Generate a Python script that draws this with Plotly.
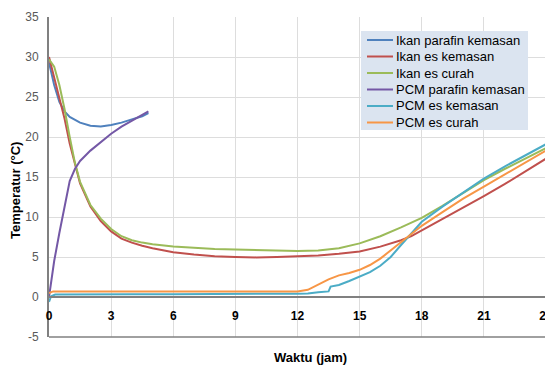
import plotly.graph_objects as go

# ---- data ----
t_ikan_parafin = [0, 0.25, 0.5, 0.75, 1.0, 1.5, 2.0, 2.5, 3.0, 3.5, 4.0, 4.5, 4.8]
T_ikan_parafin = [29.3, 26.5, 24.4, 23.2, 22.5, 21.8, 21.4, 21.3, 21.5, 21.8, 22.2, 22.6, 23.0]

t_ikan_es_kemasan = [0, 0.25, 0.5, 0.75, 1.0, 1.25, 1.5, 2.0, 2.5, 3.0, 3.5, 4.0, 4.5, 5, 6, 7, 8, 9, 10, 11, 12,
                     13, 14, 15, 16, 17, 17.5, 18, 19, 20, 21, 22, 23, 24]
T_ikan_es_kemasan = [30.0, 27.5, 25.0, 22.3, 19.2, 16.5, 14.2, 11.3, 9.5, 8.2, 7.3, 6.8, 6.4, 6.1, 5.6, 5.3, 5.1, 5.0, 4.95, 5.0, 5.1,
                     5.2, 5.4, 5.7, 6.3, 7.1, 7.6, 8.3, 9.7, 11.1, 12.6, 14.1, 15.7, 17.3]

t_ikan_es_curah = [0, 0.25, 0.5, 0.75, 1.0, 1.25, 1.5, 2.0, 2.5, 3.0, 3.5, 4.0, 4.5, 5, 6, 7, 8, 9, 10, 11, 12,
                   13, 14, 15, 16, 17, 18, 19, 20, 21, 22, 23, 24]
T_ikan_es_curah = [29.7, 28.8, 26.5, 23.5, 20.0, 16.8, 14.4, 11.5, 9.8, 8.5, 7.6, 7.1, 6.8, 6.6, 6.3, 6.15, 6.0, 5.95, 5.9, 5.8, 5.75,
                   5.8, 6.1, 6.7, 7.6, 8.7, 9.9, 11.4, 13.0, 14.6, 16.0, 17.3, 18.6]

t_pcm_parafin = [0, 0.25, 0.5, 0.75, 1.0, 1.25, 1.5, 2.0, 2.5, 3.0, 3.5, 4.0, 4.5, 4.8]
T_pcm_parafin = [0.0, 4.5, 8.0, 11.5, 14.5, 16.0, 17.0, 18.3, 19.4, 20.4, 21.3, 22.0, 22.7, 23.2]

t_pcm_es_kemasan = [0, 0.1, 0.3, 2, 4, 6, 8, 10, 12, 12.5, 13, 13.5, 13.6, 14, 14.5, 15, 15.5, 16, 16.5, 17, 17.5,
                    18, 19, 20, 21, 22, 23, 24]
T_pcm_es_kemasan = [-0.6, 0.1, 0.3, 0.35, 0.35, 0.35, 0.4, 0.4, 0.4, 0.45, 0.6, 0.7, 1.3, 1.5, 2.0, 2.5, 3.1, 3.9, 5.0, 6.5, 8.0,
                    9.4, 11.3, 13.1, 14.8, 16.3, 17.7, 19.1]

t_pcm_es_curah = [0, 0.2, 2, 4, 6, 8, 10, 12, 12.5, 13, 13.5, 14, 14.5, 15, 15.5, 16, 16.5, 17, 17.5,
                  18, 19, 20, 21, 22, 23, 24]
T_pcm_es_curah = [0.5, 0.7, 0.7, 0.7, 0.7, 0.7, 0.7, 0.7, 0.9, 1.6, 2.2, 2.7, 3.0, 3.4, 4.0, 4.8, 5.8, 6.9, 7.9,
                  8.9, 10.6, 12.3, 13.8, 15.3, 16.8, 18.3]

series_names = ["Ikan parafin kemasan", "Ikan es kemasan", "Ikan es curah",
                "PCM parafin kemasan", "PCM es kemasan", "PCM es curah"]
series_t = [t_ikan_parafin, t_ikan_es_kemasan, t_ikan_es_curah,
            t_pcm_parafin, t_pcm_es_kemasan, t_pcm_es_curah]
series_T = [T_ikan_parafin, T_ikan_es_kemasan, T_ikan_es_curah,
            T_pcm_parafin, T_pcm_es_kemasan, T_pcm_es_curah]
series_colors = ["#4F81BD", "#C0504D", "#9BBB59", "#7458A6", "#4BACC6", "#F79646"]

x_ticks = [0, 3, 6, 9, 12, 15, 18, 21, 24]
y_ticks = [-5, 0, 5, 10, 15, 20, 25, 30, 35]

FONT = "Liberation Sans, Arial, sans-serif"

# screen-pixel helpers for the plot area (left 49, right 546, top 17, bottom 337)
PL, PR, PT, PB = 49, 546, 17, 337
def px(x):
    return (x - PL) / (PR - PL)
def py(y):
    return (PB - y) / (PB - PT)

fig = go.Figure()
for name, t, T, c in zip(series_names, series_t, series_T, series_colors):
    fig.add_trace(go.Scatter(x=t, y=T, mode="lines", name=name, showlegend=False,
                             line=dict(color=c, width=2)))

shapes = [
    dict(type="line", xref="paper", yref="paper", x0=0, x1=1, y0=0, y1=0,
         line=dict(color="#808080", width=1.5)),
    dict(type="line", xref="paper", yref="paper", x0=1, x1=1, y0=0, y1=1,
         line=dict(color="#808080", width=1.5)),
    # legend box
    dict(type="rect", xref="paper", yref="paper", x0=px(361), x1=px(528), y0=py(130), y1=py(31),
         fillcolor="#DBE4F0", line=dict(width=0), layer="above"),
]
annotations = [
    dict(text="Waktu (jam)", x=px(310), y=py(357), xref="paper", yref="paper",
         xanchor="center", yanchor="middle", showarrow=False,
         font=dict(family=FONT, size=13, color="#000000", weight="bold")),
    dict(text="Temperatur (°C)", x=px(15), y=py(191), xref="paper", yref="paper",
         xanchor="center", yanchor="middle", showarrow=False, textangle=-90,
         font=dict(family=FONT, size=13, color="#000000", weight="bold")),
]
row_y = [40, 56.5, 73, 89.5, 106, 122.5]
for name, c, ry in zip(series_names, series_colors, row_y):
    shapes.append(dict(type="line", xref="paper", yref="paper", x0=px(367), x1=px(393),
                       y0=py(ry), y1=py(ry), line=dict(color=c, width=2), layer="above"))
    annotations.append(dict(text=name, x=px(394), y=py(ry), xref="paper", yref="paper",
                            xanchor="left", yanchor="middle", showarrow=False,
                            font=dict(family=FONT, size=13, color="#000000")))

# page body has an 8px margin: shift the figure so the plot lands where the reference has it
fig.update_layout(
    width=545, height=357,
    margin=dict(l=41, r=7, t=9, b=28, autoexpand=False),
    paper_bgcolor="white", plot_bgcolor="white",
    font=dict(family=FONT, size=12, color="#000000"),
    showlegend=False,
    xaxis=dict(range=[0, 24], tickvals=x_ticks, ticktext=[str(v) for v in x_ticks],
               showgrid=True, gridcolor="#DDDDDD", gridwidth=1, automargin=False,
               zeroline=False, showline=True, linecolor="#808080", linewidth=2,
               anchor="free", position=0.125, ticks="", ticklabelstandoff=8,
               tickfont=dict(family=FONT, size=12, color="#000000", weight="bold")),
    yaxis=dict(range=[-5, 35], tickvals=y_ticks, ticktext=[str(v) for v in y_ticks],
               showgrid=True, gridcolor="#DDDDDD", gridwidth=1, automargin=False,
               zeroline=False, showline=True, linecolor="#808080", linewidth=2,
               ticks="", ticklabelstandoff=6,
               tickfont=dict(family=FONT, size=12, color="#595959")),
    annotations=annotations,
    shapes=shapes,
)

fig.write_html("out.html")
